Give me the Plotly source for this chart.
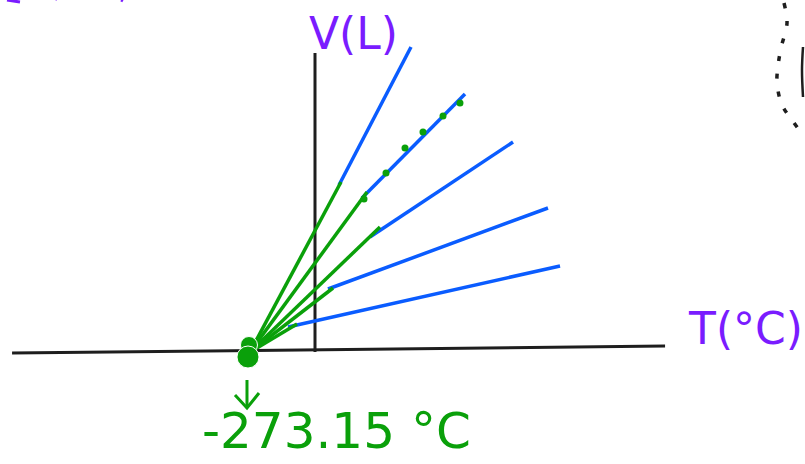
import plotly.graph_objects as go

# Hand sketch of Charles' law: V(L) against T(°C), lines meet at absolute zero
# values, T in °C and V in L

axis_T = [-1273, 1471]
axis_V = [-0.06, 0.08]
vaxis_T = [0, 0]
vaxis_V = [-0.04, 5.94]

blue_T_start = [100.9, 197.5, 231.1, 54.6, -113.5]
blue_V_start = [3.30, 3.04, 2.26, 1.22, 0.46]
blue_T_end = [403.4, 630.3, 832.1, 979.1, 1029.6]
blue_V_end = [6.06, 5.12, 4.16, 2.84, 1.68]

zero_T = -273.15
zero_V = -0.04
green_T_end = [109.3, 218.5, 273.1, 75.6, -75.6]
green_V_end = [3.36, 3.16, 2.46, 1.24, 0.52]

dots_T = [205.9, 298.4, 378.2, 453.8, 537.9, 609.3]
dots_V = [3.02, 3.54, 4.04, 4.36, 4.68, 4.94]

blob_T = [-277.4, -281.6]
blob_V = [0.10, -0.14]

arrow_T = [-285.8, -285.8, None, -336.2, -285.8, -235.3]
arrow_V = [-0.60, -1.16, None, -0.90, -1.16, -0.86]

dotted_T = [1970.9, 1983.5, 1958.3, 1945.7, 1941.5, 1962.5, 2004.5, 2050.7]
dotted_V = [6.94, 6.54, 6.04, 5.68, 5.34, 4.90, 4.60, 4.30]
edge_T = [2050.7, 2046.5, 2050.7]
edge_V = [6.06, 5.60, 5.06]

scrap_T = [-1294.3, -1239.7, None, -1088.2, -1083.9, None, -815.2, -806.8]
scrap_V = [7.0, 6.96, None, 7.02, 7.01, None, 7.0, 6.98]

BLUE = '#0A5CFF'
GREEN = '#0AA00A'
PURPLE = '#7A1CFF'
INK = '#1E1E1E'

fig = go.Figure()

# axes drawn by hand
fig.add_trace(go.Scatter(x=axis_T, y=axis_V, mode='lines',
                         line=dict(color=INK, width=3)))
fig.add_trace(go.Scatter(x=vaxis_T, y=vaxis_V, mode='lines',
                         line=dict(color=INK, width=3)))

# measured lines
for i in range(len(blue_T_start)):
    fig.add_trace(go.Scatter(x=[blue_T_start[i], blue_T_end[i]],
                             y=[blue_V_start[i], blue_V_end[i]],
                             mode='lines', line=dict(color=BLUE, width=3.5)))

# extrapolation back to absolute zero
for i in range(len(green_T_end)):
    fig.add_trace(go.Scatter(x=[zero_T, green_T_end[i]],
                             y=[zero_V, green_V_end[i]],
                             mode='lines', line=dict(color=GREEN, width=3.5)))

fig.add_trace(go.Scatter(x=dots_T, y=dots_V, mode='markers',
                         marker=dict(color=GREEN, size=7, opacity=1)))
fig.add_trace(go.Scatter(x=blob_T, y=blob_V, mode='markers',
                         marker=dict(color=GREEN, size=[17, 22], opacity=1)))
fig.add_trace(go.Scatter(x=arrow_T, y=arrow_V, mode='lines',
                         line=dict(color=GREEN, width=3)))

# bits of other sketches at the edges
fig.add_trace(go.Scatter(x=dotted_T, y=dotted_V, mode='lines',
                         line=dict(color=INK, width=3.5, dash='5px,13px',
                                   shape='spline')))
fig.add_trace(go.Scatter(x=edge_T, y=edge_V, mode='lines',
                         line=dict(color=INK, width=2.5, shape='spline')))
fig.add_trace(go.Scatter(x=scrap_T, y=scrap_V, mode='lines',
                         line=dict(color=PURPLE, width=3)))

hand = dict(family='DejaVu Sans', size=44)
fig.add_annotation(x=160, y=6.34, text='V(L)', showarrow=False,
                   xanchor='center', yanchor='middle',
                   font=dict(hand, color=PURPLE))
fig.add_annotation(x=1810, y=0.44, text='T(°C)', showarrow=False,
                   xanchor='center', yanchor='middle',
                   font=dict(hand, color=PURPLE))
fig.add_annotation(x=-483, y=-1.62, text='-273.15 °C', showarrow=False,
                   xanchor='left', yanchor='middle',
                   font=dict(family='DejaVu Sans', size=50, color=GREEN))

fig.update_layout(
    width=805, height=464,
    margin=dict(l=0, r=0, t=0, b=0),
    plot_bgcolor='white', paper_bgcolor='white',
    showlegend=False)
fig.update_xaxes(range=[-1323.7, 2059.1], visible=False)
fig.update_yaxes(range=[-2.28, 7.0], visible=False)

fig.write_html("out.html", config={'displayModeBar': False},
               post_script="document.body.style.margin='0';"
                           "document.body.style.overflow='hidden';")
